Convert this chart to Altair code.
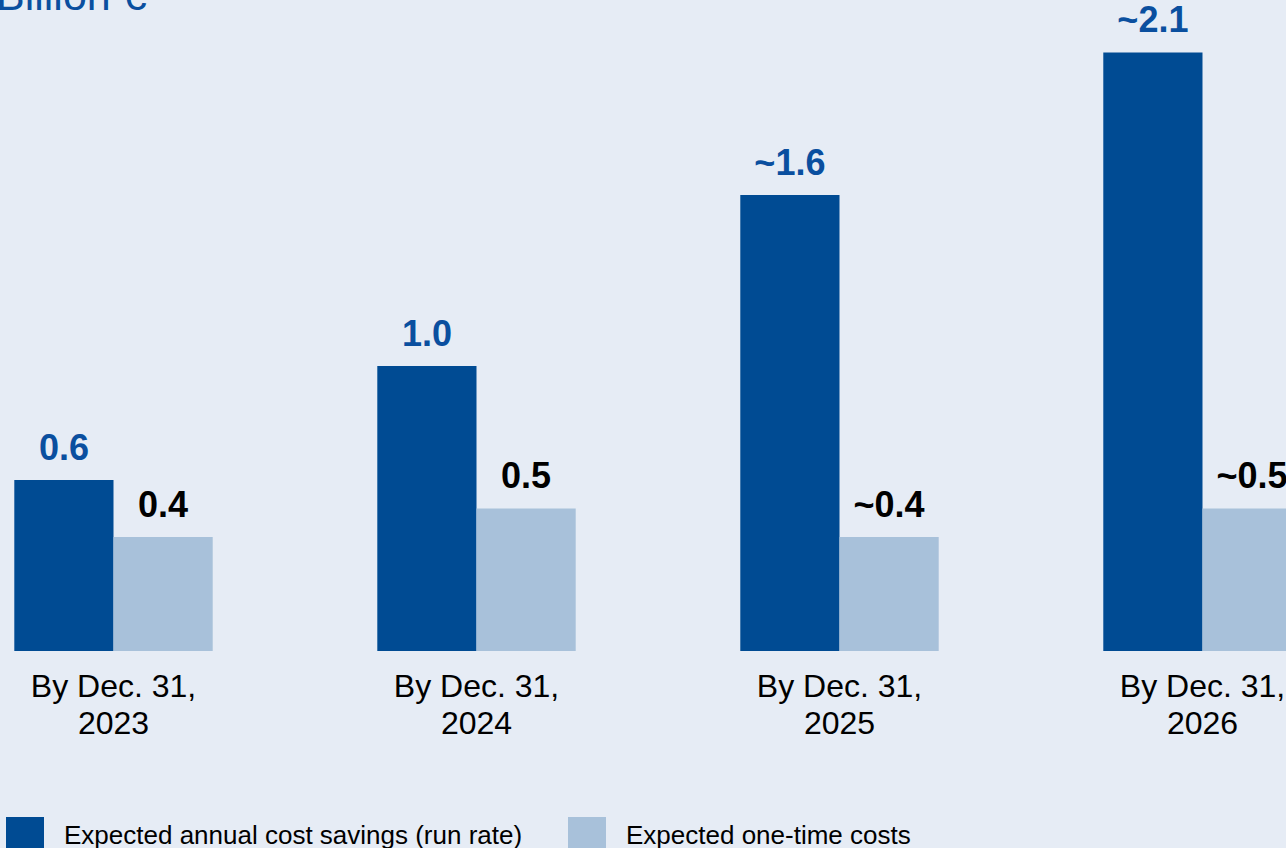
import altair as alt
import pandas as pd

years = ["2023", "2024", "2025", "2026"]
savings = [0.6, 1.0, 1.6, 2.1]
costs = [0.4, 0.5, 0.4, 0.5]
savings_labels = ["0.6", "1.0", "~1.6", "~2.1"]
costs_labels = ["0.4", "0.5", "~0.4", "~0.5"]
series = ["Expected annual cost savings (run rate)", "Expected one-time costs"]
title_text = "Billion €"

rows = []
for i, yr in enumerate(years):
    rows.append({"year": yr, "series": series[0], "value": savings[i], "label": savings_labels[i], "order": 0})
    rows.append({"year": yr, "series": series[1], "value": costs[i], "label": costs_labels[i], "order": 1})
df = pd.DataFrame(rows)

FONT = "Liberation Sans"
BLUE_TXT = "#0A4F9F"

x = alt.X(
    "year:N",
    sort=years,
    scale=alt.Scale(range=[14.3, 1301.7], paddingInner=0.4534, paddingOuter=0),
    axis=alt.Axis(
        title=None,
        labelExpr="['By Dec. 31,', datum.label]",
        labelFontSize=32,
        labelLineHeight=37,
        labelPadding=20,
        labelColor="black",
        labelFont=FONT,
        domain=False,
        ticks=False,
        grid=False,
        labelAngle=0,
    ),
)
xo = alt.XOffset("series:N", sort=series, scale=alt.Scale(paddingInner=0, paddingOuter=0))
y = alt.Y("value:Q", scale=alt.Scale(domain=[0, 2.284], nice=False, zero=True), axis=None)

bars = alt.Chart(df).mark_bar(strokeWidth=0).encode(
    x=x,
    xOffset=xo,
    y=y,
    color=alt.Color(
        "series:N",
        sort=series,
        scale=alt.Scale(domain=series, range=["#004B93", "#A8C1DA"]),
        legend=alt.Legend(
            title=None,
            orient="none",
            legendX=6,
            legendY=817,
            direction="horizontal",
            symbolType="square",
            symbolSize=1444,
            symbolStrokeWidth=0,
            symbolOpacity=1,
            labelFontSize=26,
            labelFont=FONT,
            labelColor="black",
            labelOffset=20,
            columnPadding=45,
            labelLimit=1000,
            padding=0,
        ),
    ),
)

labels = alt.Chart(df).mark_text(
    fontSize=36, fontWeight="bold", font=FONT, baseline="alphabetic", dy=-20
).encode(
    x=x,
    xOffset=xo,
    y=y,
    text="label:N",
    color=alt.condition(alt.datum.order == 0, alt.value(BLUE_TXT), alt.value("black")),
)

title = alt.Chart(pd.DataFrame({"t": [title_text]})).mark_text(
    align="left", baseline="alphabetic", fontSize=43, font=FONT, color=BLUE_TXT
).encode(x=alt.value(-4), y=alt.value(10), text="t:N")

chart = (
    alt.layer(bars, labels, title)
    .properties(
        width=1286,
        height=651,
        autosize=alt.AutoSizeParams(type="none"),
        padding={"left": 0, "right": 0, "top": 0, "bottom": 197},
    )
    .configure(background="#E6ECF5")
    .configure_view(strokeWidth=0)
)

chart.save("out.html", embed_options={"renderer": "svg", "actions": False})
